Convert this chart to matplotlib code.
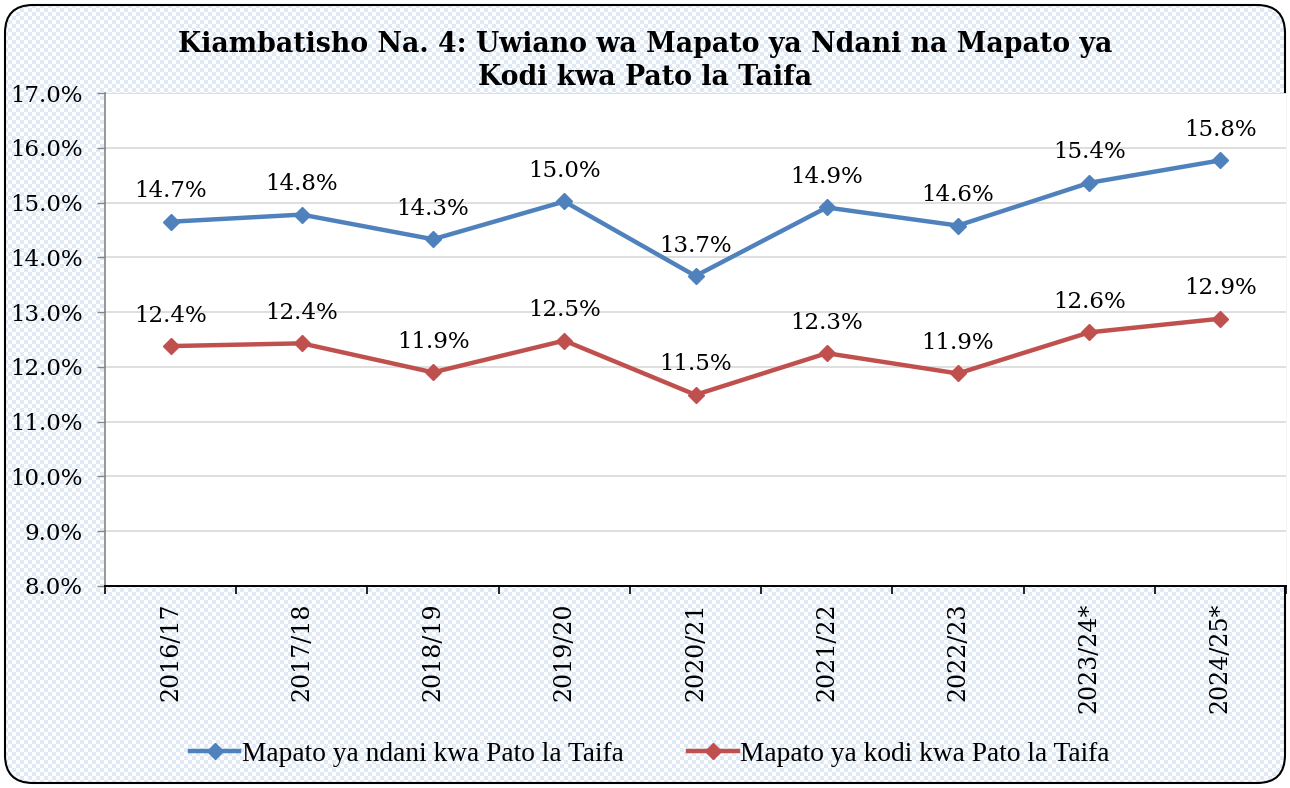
import numpy as np
import matplotlib
matplotlib.use("Agg")
import matplotlib.pyplot as plt
from matplotlib.patches import FancyBboxPatch
from matplotlib.lines import Line2D

categories = ["2016/17", "2017/18", "2018/19", "2019/20", "2020/21",
              "2021/22", "2022/23", "2023/24*", "2024/25*"]
ndani = [14.65, 14.78, 14.33, 15.02, 13.66, 14.91, 14.58, 15.36, 15.77]
kodi = [12.38, 12.43, 11.90, 12.48, 11.49, 12.25, 11.88, 12.63, 12.88]
ndani_labels = ["14.7%", "14.8%", "14.3%", "15.0%", "13.7%", "14.9%", "14.6%", "15.4%", "15.8%"]
kodi_labels = ["12.4%", "12.4%", "11.9%", "12.5%", "11.5%", "12.3%", "11.9%", "12.6%", "12.9%"]
yticks = [8, 9, 10, 11, 12, 13, 14, 15, 16, 17]

W, H = 1290, 788
fig = plt.figure(figsize=(W / 100, H / 100), dpi=100)
fig.patch.set_facecolor("white")

# checkerboard background clipped to rounded frame
bg = fig.add_axes([0, 0, 1, 1])
bg.axis("off")
cell = 4
ny, nx = H // cell + 1, W // cell + 1
chk = (np.add.outer(np.arange(ny), np.arange(nx)) % 2).astype(float)
img = bg.imshow(chk, cmap=matplotlib.colors.ListedColormap(["#ffffff", "#e0e9f6"]),
                extent=(0, nx * cell, ny * cell, 0), interpolation="nearest", zorder=0)
frame = FancyBboxPatch((5, 5), W - 10, H - 10, boxstyle="round,pad=0,rounding_size=28",
                       facecolor="none", edgecolor="black", linewidth=1.5, zorder=2)
bg.add_patch(frame)
img.set_clip_path(frame)
bg.set_xlim(0, W)
bg.set_ylim(H, 0)

serif = ["DejaVu Serif"]

left, right = 105, 1286
top, bottom = 93, 586
ax = fig.add_axes([left / W, 1 - bottom / H, (right - left) / W, (bottom - top) / H])
ax.set_facecolor("white")
x = np.arange(len(categories))
ax.set_xlim(-0.5, len(categories) - 0.5)
ax.set_ylim(8, 17)
ax.set_yticks(yticks)
ax.set_yticklabels([f"{v:.1f}%" for v in yticks], fontsize=16.5, family=serif)
ax.yaxis.grid(True, color="#d9d9d9", linewidth=1.2)
ax.set_axisbelow(True)
ax.set_xticks(np.arange(len(categories) + 1) - 0.5)
ax.set_xticklabels([])
ax.set_xticks(x, minor=True)
ax.set_xticklabels(categories, minor=True, rotation=90, fontsize=17, family=serif)
ax.tick_params(axis="x", which="minor", length=0, pad=12)
ax.tick_params(axis="x", which="major", length=6, width=1.2, color="black", direction="out")
ax.tick_params(axis="y", length=6, width=1, color="#868686", pad=10)
for s in ["top", "right"]:
    ax.spines[s].set_visible(False)
ax.spines["left"].set_color("#868686")
ax.spines["left"].set_linewidth(1.2)
ax.spines["bottom"].set_color("black")
ax.spines["bottom"].set_linewidth(1.4)

blue, red = "#4f81bd", "#c0504d"
ax.plot(x, ndani, color=blue, lw=3.2, marker="D", ms=8, clip_on=False, zorder=3)
ax.plot(x, kodi, color=red, lw=3.2, marker="D", ms=8, clip_on=False, zorder=3)
for xi, v, t in zip(x, ndani, ndani_labels):
    ax.annotate(t, (xi, v), xytext=(0, 14), textcoords="offset points", ha="center",
                va="bottom", fontsize=16.5, family=serif)
for xi, v, t in zip(x, kodi, kodi_labels):
    ax.annotate(t, (xi, v), xytext=(0, 14), textcoords="offset points", ha="center",
                va="bottom", fontsize=16.5, family=serif)

fig.text(645 / W, 1 - 61 / H,
         "Kiambatisho Na. 4: Uwiano wa Mapato ya Ndani na Mapato ya\nKodi kwa Pato la Taifa",
         ha="center", va="center", fontsize=19.3, fontweight="bold", family=serif,
         linespacing=1.3)

handles = [Line2D([], [], color=blue, lw=3.2, marker="D", ms=8),
           Line2D([], [], color=red, lw=3.2, marker="D", ms=8)]
fig.legend(handles, ["Mapato ya ndani kwa Pato la Taifa", "Mapato ya kodi kwa Pato la Taifa"],
           loc="center", bbox_to_anchor=(650 / W, 1 - 754 / H), ncol=2, frameon=False,
           prop={"family": "Liberation Serif", "size": 19.7}, handlelength=1.8,
           handletextpad=0.1, columnspacing=2.35)

fig.savefig("out.png", dpi=100)
